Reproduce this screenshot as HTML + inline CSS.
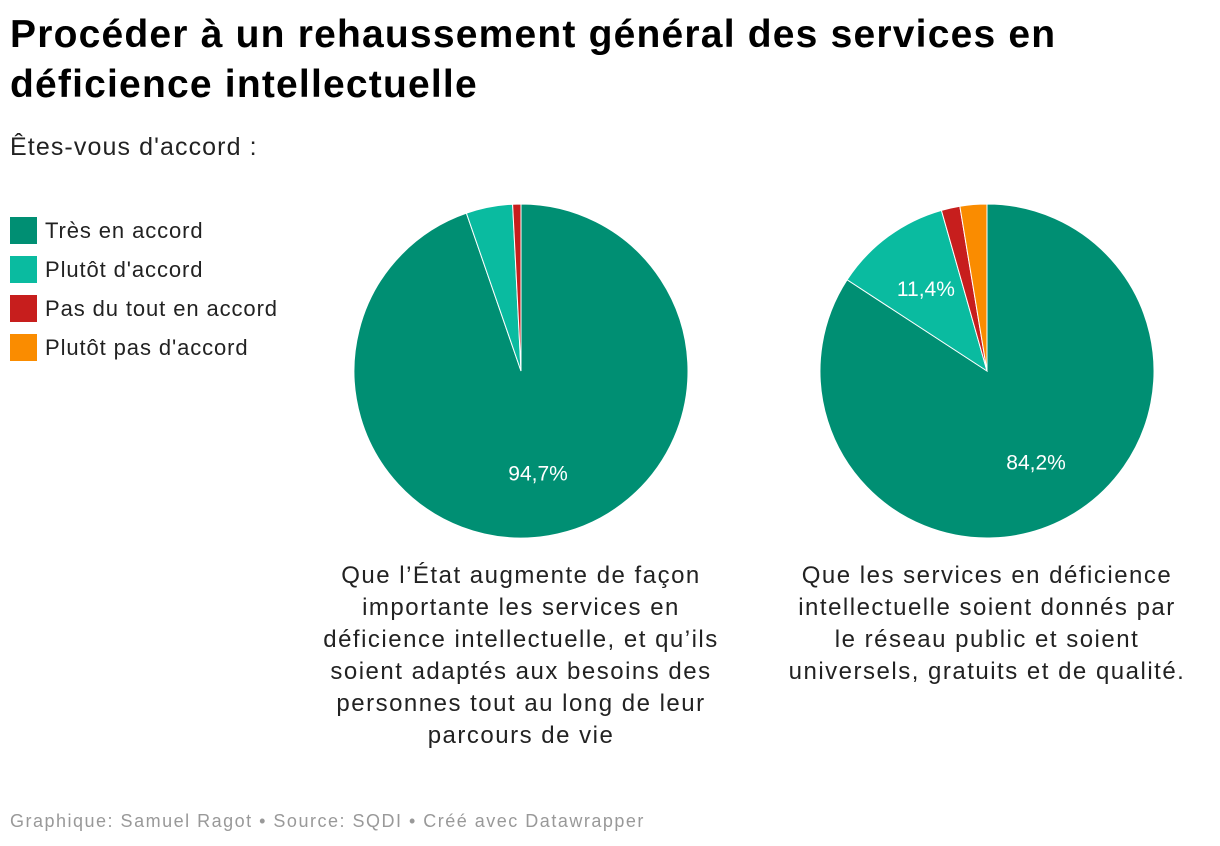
<!DOCTYPE html>
<html><head><meta charset="utf-8"><style>
body{margin:0;width:1220px;height:846px;background:#fff;font-family:"Liberation Sans",sans-serif;color:#000;position:relative;overflow:hidden}
h1{position:absolute;left:10px;top:10px;margin:0;font-size:39px;line-height:50px;font-weight:bold;width:1100px;letter-spacing:1.2px}
.sub{position:absolute;left:10px;top:133px;font-size:25px;color:#222;letter-spacing:1.1px}
.legend{position:absolute;left:10px;top:211px}
.li{height:39px;display:flex;align-items:center;font-size:22px;color:#222;letter-spacing:0.9px}
.sw{width:27px;height:27px;margin-right:8px}
.cap{position:absolute;top:560px;width:460px;text-align:center;font-size:24px;line-height:32px;color:#222;letter-spacing:1.5px;white-space:nowrap}
.foot{position:absolute;left:10px;top:811px;font-size:18px;color:#999;letter-spacing:1.5px}
</style></head><body>
<h1>Procéder à un rehaussement général des services en déficience intellectuelle</h1>
<div class="sub">Êtes-vous d'accord :</div>
<div class="legend">
<div class="li"><div class="sw" style="background:#008f73"></div>Très en accord</div>
<div class="li"><div class="sw" style="background:#0abba0"></div>Plutôt d'accord</div>
<div class="li"><div class="sw" style="background:#c71e1d"></div>Pas du tout en accord</div>
<div class="li"><div class="sw" style="background:#fa8c00"></div>Plutôt pas d'accord</div>
</div>
<svg id="svg" width="1220" height="846" style="position:absolute;left:0;top:0"></svg>
<div class="cap" style="left:291px">Que l’État augmente de façon<br>importante les services en<br>déficience intellectuelle, et qu’ils<br>soient adaptés aux besoins des<br>personnes tout au long de leur<br>parcours de vie</div>
<div class="cap" style="left:757px">Que les services en déficience<br>intellectuelle soient donnés par<br>le réseau public et soient<br>universels, gratuits et de qualité.</div>
<div class="foot">Graphique: Samuel Ragot • Source: SQDI • Créé avec Datawrapper</div>
<script>
const categories=["Très en accord","Plutôt d'accord","Pas du tout en accord","Plutôt pas d'accord"];
const colors=["#008f73","#0abba0","#c71e1d","#fa8c00"];
const pie1Values=[94.7,4.5,0.8,0];
const pie2Values=[84.2,11.4,1.8,2.6];
const svg=document.getElementById('svg');
const NS="http://www.w3.org/2000/svg";
function pt(cx,cy,r,f){const a=f*2*Math.PI;return [cx+r*Math.sin(a),cy-r*Math.cos(a)];}
function drawPie(vals,cx,cy,R,name){
  const tot=vals.reduce((a,b)=>a+b,0);let acc=0;
  vals.forEach((v,i)=>{
    if(v<=0)return;
    const f0=acc/tot,f1=(acc+v)/tot;acc+=v;
    const p0=pt(cx,cy,R,f0),p1=pt(cx,cy,R,f1);
    const large=(f1-f0)>0.5?1:0;
    const path=document.createElementNS(NS,'path');
    path.setAttribute('d',`M${cx},${cy}L${p0[0]},${p0[1]}A${R},${R} 0 ${large} 1 ${p1[0]},${p1[1]}Z`);
    path.setAttribute('fill',colors[i]);path.setAttribute('stroke','#fff');path.setAttribute('stroke-width','1');
    
    
    svg.appendChild(path);
    if(v/tot>=0.08){
      const m=pt(cx,cy,103,(f0+f1)/2);
      const t=document.createElementNS(NS,'text');
      t.setAttribute('x',m[0]);t.setAttribute('y',m[1]+8);t.setAttribute('text-anchor','middle');
      t.setAttribute('fill','#fff');t.setAttribute('font-size','21');t.setAttribute('font-family','Liberation Sans, sans-serif');
      t.textContent=v.toFixed(1).replace('.',',')+'%';
      
      
      svg.appendChild(t);
    }
  });
}
drawPie(pie1Values,521,371,167,'pie1');
drawPie(pie2Values,987,371,167,'pie2');
</script>
</body></html>
